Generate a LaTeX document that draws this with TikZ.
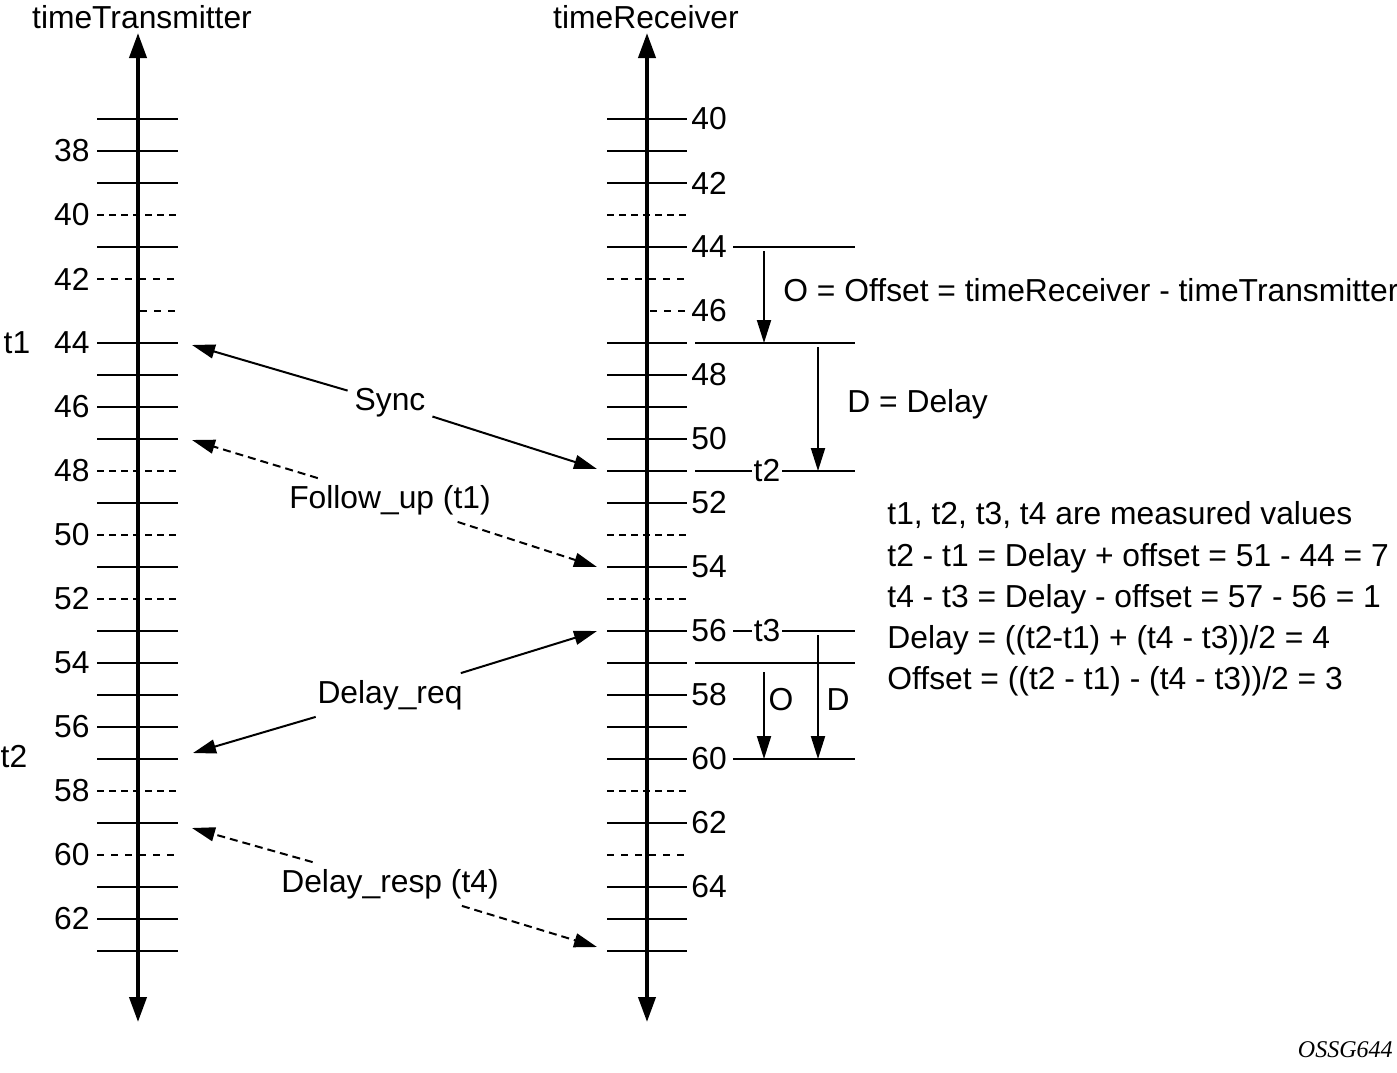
\documentclass[tikz,border=0pt]{standalone}
\usepackage{fontspec}
\setmainfont{Liberation Sans}
\newfontfamily\tagfont{Liberation Serif}
\usepackage{tikz}
\newcommand{\txaxis}{138}
\newcommand{\rxaxis}{647}
\newcommand{\txy}[1]{343+32*(#1-44)}
\newcommand{\rxy}[1]{119+32*(#1-40)}
\usetikzlibrary{arrows.meta,calc,positioning}
\tikzset{
  >={Triangle[length=11.5pt,width=7pt]},
  font=\fontsize{15.9}{20.6}\selectfont,
  axis/.style={line width=2pt,arrows={Triangle[length=12.5pt,width=8.5pt]-Triangle[length=12.5pt,width=8.5pt]}},
  tick/.style={line width=1pt},
  dtick/.style={line width=0.9pt,dash pattern=on 3.5pt off 2.5pt},
  ftick/.style={line width=0.6pt,dash pattern=on 3.5pt off 3.5pt},
  guide/.style={line width=1pt},
  num/.style={inner sep=0},
  msg/.style={draw,->,line width=1pt},
  dmsg/.style={msg,dash pattern=on 4pt off 2.5pt},
  tlabel/.style={fill=white,inner sep=1pt},
}

\begin{document}
\begin{tikzpicture}[x=0.5pt,y=-0.5pt]
    \useasboundingbox (0,0) rectangle (1397,1072);

    \node (tx) at (142,17) {timeTransmitter};
    \node (rx) at (646,17) {timeReceiver};
    \coordinate (txtop) at (\txaxis,33);
    \coordinate (txbot) at (\txaxis,1022);
    \coordinate (rxtop) at (\rxaxis,33);
    \coordinate (rxbot) at (\rxaxis,1022);

    \foreach \v in {37,38,39,41,44,45,46,47,49,51,53,54,55,56,57,59,61,62,63}
      \draw [tick] (97,{\txy{\v}}) -- (178,{\txy{\v}});
    \foreach \v in {40,48,50,52,58}
      \draw [dtick] (97,{\txy{\v}}) -- (178,{\txy{\v}});
    \foreach \v in {42,60}
      \draw [ftick] (97,{\txy{\v}}) -- (178,{\txy{\v}});
    \draw [ftick] (140,{\txy{43}}) -- (178,{\txy{43}});
    \foreach \v in {38,40,...,62}
      \node (txl\v) [num,anchor=east] at (90,{\txy{\v}}) {\v};

    \foreach \v in {40,41,42,44,47,48,49,50,51,52,54,56,57,58,59,60,62,64,65,66}
      \draw [tick] (607,{\rxy{\v}}) -- (687,{\rxy{\v}});
    \foreach \v in {43,53,55,61}
      \draw [dtick] (607,{\rxy{\v}}) -- (687,{\rxy{\v}});
    \foreach \v in {45,63}
      \draw [ftick] (607,{\rxy{\v}}) -- (687,{\rxy{\v}});
    \draw [ftick] (650,{\rxy{46}}) -- (687,{\rxy{46}});
    \foreach \v in {40,42,...,64}
      \node (rxl\v) [num,anchor=west] at (691,{\rxy{\v}}) {\v};

    \draw [axis] (txtop) -- (txbot);
    \draw [axis] (rxtop) -- (rxbot);

    \node (t1) at (17,343) {t1};
    \node (t2) at (14,757) {t2};

    \draw [guide] (733,247) -- (855,247);
    \draw [guide] (695,343) -- (855,343);
    \draw [guide] (695,471) -- (855,471) node (t2rx) [tlabel,pos=0.45] {t2};
    \draw [guide] (733,631) -- (855,631) node (t3rx) [tlabel,pos=0.28] {t3};
    \draw [guide] (695,663) -- (855,663);
    \draw [guide] (733,759) -- (855,759);

    \coordinate (otop) at (764,251);
    \coordinate (obot) at (764,343);
    \coordinate (dtop) at (818,347);
    \coordinate (dbot) at (818,471);
    \coordinate (o2top) at (764,672);
    \coordinate (o2bot) at (764,759);
    \coordinate (d2top) at (818,635);
    \coordinate (d2bot) at (818,759);
    \path [msg] (otop) -- (obot);
    \path [msg] (dtop) -- (dbot);
    \path [msg] (o2top) -- (o2bot);
    \path [msg] (d2top) -- (d2bot);
    \node (offset) [num,anchor=west] at (783,290) {O = Offset = timeReceiver - timeTransmitter};
    \node (delay) [num,anchor=west] at (847,404) {D = Delay};
    \node (o2) at (781,700) {O};
    \node (d2) at (838,700) {D};

    \node (sync) at (390,403) {Sync};
    \node (follow) at (390,500) {Follow\_up (t1)};
    \node (dreq) at (390,695) {Delay\_req};
    \node (dresp) at (390,884) {Delay\_resp (t4)};
    \coordinate (syncl) at (192,345);
    \coordinate (syncr) at (597,469);
    \coordinate (followl) at (192,440);
    \coordinate (followr) at (597,567);
    \coordinate (dreql) at (193,753);
    \coordinate (dreqr) at (597,631);
    \coordinate (drespl) at (192,828);
    \coordinate (drespr) at (597,947);
    \path [msg] (sync) -- (syncl);
    \path [msg] (sync) -- (syncr);
    \path [dmsg] (follow) -- (followl);
    \path [dmsg] (follow) -- (followr);
    \path [msg] (dreq) -- (dreql);
    \path [msg] (dreq) -- (dreqr);
    \path [dmsg] (dresp) -- (drespl);
    \path [dmsg] (dresp) -- (drespr);

    \node (values) [num,align=left,anchor=west] at (887,599) {
      t1, t2, t3, t4 are measured values\\
      t2 - t1 = Delay + offset = 51 - 44 = 7\\
      t4 - t3 = Delay - offset = 57 - 56 = 1\\
      Delay = ((t2-t1) + (t4 - t3))/2 = 4\\
      Offset = ((t2 - t1) - (t4 - t3))/2 = 3
    };

    \node (tag) [num,anchor=east,font=\tagfont\itshape\fontsize{12}{14}\selectfont] at (1393,1050) {OSSG644};
\end{tikzpicture}
\end{document}
